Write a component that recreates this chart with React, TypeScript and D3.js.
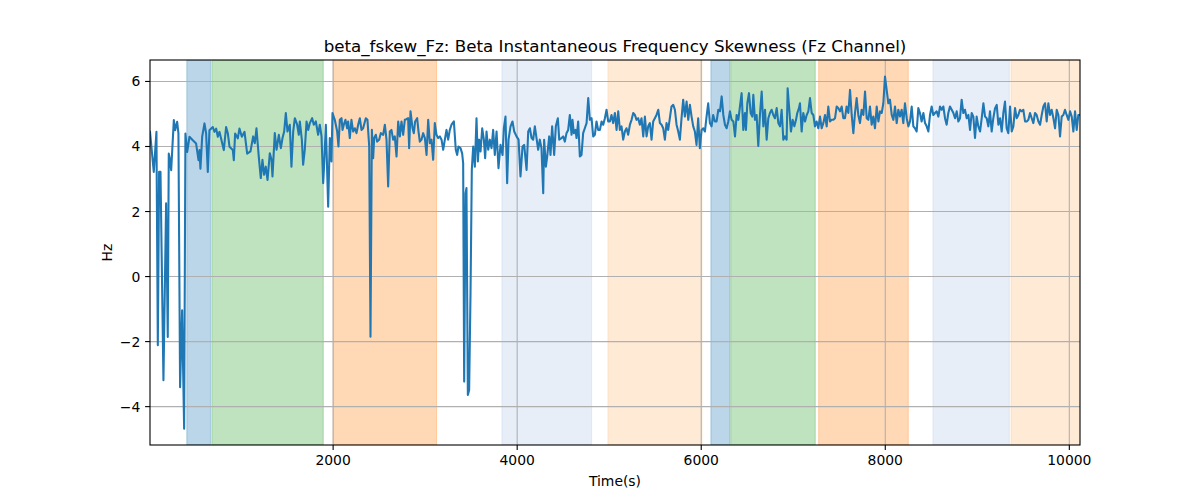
import * as d3 from 'd3';

// beta instantaneous frequency skewness, Fz channel: [time (s), Hz]
const fskew: [number, number][] = [
  [10, 4.45], [51, 3.22], [80, 4.45], [95, -2.11], [109, 3.22], [124, 3.22], [156, -3.19], [185, 2.25],
  [203, -1.86], [214, 3.78], [225, 3.63], [240, 3.27], [269, 4.81], [283, 4.5], [305, 4.76], [319, 4.4],
  [337, -3.4], [359, -1.04], [381, -4.68], [395, 4.4], [414, 3.83], [439, 4.3], [475, 4.19], [511, 4.09],
  [537, 3.58], [548, 3.89], [558, 3.32], [577, 4.3], [602, 4.71], [620, 4.4], [638, 3.22], [656, 4.5],
  [692, 4.6], [711, 4.45], [729, 4.55], [747, 4.3], [765, 4.45], [812, 3.89], [837, 4.6], [856, 4.4],
  [874, 3.99], [910, 3.89], [921, 3.58], [935, 4.4], [964, 4.25], [982, 4.55], [1008, 4.3], [1037, 4.45],
  [1066, 3.78], [1102, 3.85], [1131, 4.31], [1149, 4.1], [1167, 4.56], [1192, 3.69], [1214, 3.03], [1232, 3.59],
  [1250, 3.13], [1268, 3.38], [1287, 2.97], [1312, 3.79], [1330, 3.59], [1341, 3.08], [1366, 4.41], [1385, 3.9],
  [1410, 4.36], [1432, 3.95], [1450, 4.26], [1468, 4.46], [1486, 5.03], [1504, 4.46], [1529, 4.67], [1547, 3.38],
  [1566, 4.46], [1584, 4.87], [1609, 4.67], [1627, 4.36], [1638, 4.77], [1660, 4.21], [1674, 3.44], [1692, 3.9],
  [1711, 4.77], [1729, 4.51], [1747, 4.72], [1772, 4.87], [1790, 4.67], [1812, 4.77], [1837, 4.36], [1855, 4.67],
  [1874, 4.31], [1892, 2.87], [1903, 3.49], [1921, 4.67], [1946, 2.15], [1964, 4.26], [1982, 3.54], [1993, 5.03],
  [2018, 4.82], [2044, 4.46], [2058, 4.0], [2073, 4.82], [2091, 4.87], [2102, 4.51], [2116, 4.67], [2134, 4.82],
  [2152, 4.56], [2163, 4.77], [2181, 4.26], [2199, 4.82], [2218, 4.46], [2236, 4.56], [2254, 4.41], [2272, 4.67],
  [2290, 4.87], [2308, 4.51], [2326, 4.56], [2355, 4.87], [2373, 4.82], [2392, 4.0], [2406, -1.85], [2421, 4.51],
  [2435, 3.64], [2446, 4.26], [2464, 4.36], [2478, 4.15], [2500, 4.21], [2518, 4.41], [2544, 4.36], [2562, 4.67],
  [2580, 4.21], [2598, 2.77], [2616, 4.46], [2634, 4.51], [2652, 4.21], [2670, 4.31], [2689, 3.69], [2707, 4.77],
  [2725, 4.31], [2743, 4.77], [2761, 4.36], [2779, 4.82], [2797, 4.84], [2815, 4.87], [2826, 3.95], [2841, 5.08],
  [2863, 4.56], [2877, 4.41], [2891, 4.77], [2913, 4.87], [2928, 4.46], [2942, 4.15], [2960, 4.21], [2978, 4.41],
  [2997, 4.26], [3015, 3.74], [3033, 4.82], [3051, 4.1], [3069, 4.21], [3087, 3.59], [3105, 4.72], [3123, 4.36],
  [3141, 4.26], [3160, 4.31], [3178, 4.21], [3196, 3.9], [3214, 4.21], [3232, 4.51], [3250, 4.21], [3268, 4.51],
  [3286, 4.67], [3312, 4.77], [3333, 3.9], [3348, 3.74], [3362, 4.0], [3384, 3.95], [3402, 3.79], [3413, 3.49],
  [3424, -3.23], [3439, 2.56], [3449, 2.72], [3464, -3.64], [3478, -3.49], [3493, -0.51], [3507, 3.28], [3522, 4.0],
  [3540, 3.38], [3558, 4.87], [3573, 3.54], [3587, 4.21], [3602, 3.85], [3620, 4.56], [3638, 4.21], [3652, 3.64],
  [3667, 4.46], [3685, 3.9], [3703, 4.21], [3721, 3.95], [3739, 4.51], [3757, 3.74], [3776, 4.46], [3797, 3.33],
  [3819, 4.05], [3841, 3.74], [3855, 4.56], [3873, 4.92], [3891, 2.87], [3906, 4.21], [3928, 4.62], [3949, 4.77],
  [3968, 4.46], [3993, 4.31], [4015, 4.21], [4036, 3.08], [4058, 4.0], [4076, 4.05], [4102, 3.28], [4120, 4.46],
  [4138, 4.56], [4156, 4.26], [4174, 4.21], [4192, 4.62], [4210, 4.26], [4228, 3.9], [4246, 4.21], [4264, 3.95],
  [4283, 2.56], [4293, 4.21], [4312, 3.38], [4326, 3.69], [4348, 4.31], [4362, 3.74], [4380, 4.62], [4402, 3.74],
  [4420, 4.62], [4442, 4.87], [4457, 4.21], [4482, 4.26], [4500, 4.31], [4518, 4.15], [4536, 4.41], [4554, 4.51],
  [4572, 4.97], [4591, 4.36], [4601, 4.82], [4616, 4.41], [4634, 4.51], [4645, 4.26], [4663, 4.77], [4681, 3.69],
  [4699, 3.74], [4717, 4.41], [4735, 4.56], [4754, 4.72], [4772, 5.49], [4790, 4.82], [4808, 4.87], [4826, 4.31],
  [4844, 4.36], [4862, 4.77], [4880, 4.51], [4899, 4.51], [4917, 4.77], [4935, 4.67], [4953, 4.87], [4971, 5.13],
  [4989, 4.77], [5007, 4.77], [5025, 4.97], [5043, 4.72], [5062, 5.03], [5080, 4.51], [5098, 5.08], [5116, 4.51],
  [5134, 4.62], [5152, 4.21], [5170, 4.46], [5188, 4.56], [5206, 4.36], [5225, 4.67], [5243, 4.82], [5261, 5.03],
  [5279, 4.97], [5297, 4.82], [5315, 4.87], [5333, 4.67], [5351, 4.87], [5370, 4.31], [5388, 4.92], [5406, 4.31],
  [5424, 4.62], [5442, 4.72], [5460, 4.21], [5478, 4.77], [5496, 4.87], [5514, 4.97], [5533, 5.13], [5551, 4.72],
  [5569, 4.67], [5587, 4.56], [5605, 4.21], [5623, 4.72], [5641, 4.51], [5659, 4.87], [5677, 5.23], [5696, 5.28],
  [5714, 5.13], [5732, 4.67], [5750, 4.46], [5768, 4.21], [5786, 4.87], [5804, 5.44], [5822, 4.92], [5841, 5.38],
  [5859, 4.82], [5877, 5.28], [5895, 4.92], [5913, 4.62], [5931, 4.46], [5949, 4.05], [5967, 4.87], [5985, 3.95],
  [6004, 4.51], [6022, 4.56], [6040, 4.46], [6058, 4.92], [6076, 5.33], [6094, 4.72], [6112, 4.62], [6130, 4.97],
  [6148, 4.77], [6167, 4.77], [6186, 5.13], [6204, 5.08], [6222, 5.54], [6240, 4.97], [6258, 4.67], [6276, 4.56],
  [6294, 4.77], [6312, 5.08], [6330, 4.82], [6349, 4.77], [6367, 4.31], [6385, 4.97], [6403, 4.82], [6421, 5.23],
  [6439, 5.64], [6457, 4.51], [6475, 5.03], [6486, 4.51], [6501, 5.33], [6519, 5.64], [6537, 5.03], [6555, 4.92],
  [6566, 5.59], [6584, 4.82], [6602, 4.97], [6620, 4.02], [6638, 4.97], [6657, 5.69], [6675, 4.62], [6693, 5.13],
  [6711, 4.21], [6729, 4.87], [6747, 5.03], [6765, 5.13], [6783, 4.97], [6801, 4.87], [6820, 5.18], [6838, 4.72],
  [6856, 4.62], [6874, 5.13], [6892, 4.21], [6910, 4.31], [6928, 4.21], [6939, 5.79], [6957, 5.13], [6975, 4.46],
  [6993, 4.82], [7012, 4.62], [7030, 4.82], [7044, 5.03], [7062, 5.18], [7073, 5.33], [7091, 4.46], [7109, 5.03],
  [7128, 4.77], [7146, 4.97], [7164, 5.08], [7182, 5.49], [7200, 5.03], [7218, 4.97], [7236, 4.62], [7254, 4.77],
  [7272, 4.56], [7291, 4.92], [7309, 4.56], [7327, 4.72], [7345, 4.97], [7363, 4.62], [7381, 5.23], [7399, 4.77],
  [7417, 4.82], [7436, 4.82], [7454, 4.87], [7472, 5.23], [7490, 5.18], [7508, 5.08], [7526, 5.23], [7544, 4.87],
  [7562, 4.87], [7580, 5.23], [7599, 5.03], [7617, 5.74], [7635, 4.97], [7653, 4.41], [7671, 5.03], [7689, 5.49],
  [7707, 4.97], [7725, 4.72], [7743, 5.13], [7762, 4.97], [7780, 5.69], [7798, 4.87], [7816, 4.82], [7834, 5.23],
  [7852, 4.67], [7870, 4.92], [7888, 4.56], [7907, 5.23], [7925, 4.77], [7943, 5.08], [7961, 5.03], [7979, 5.33],
  [7997, 6.15], [8015, 5.74], [8033, 5.33], [8051, 5.44], [8070, 4.97], [8088, 4.82], [8106, 5.23], [8124, 4.72],
  [8142, 5.13], [8160, 4.92], [8178, 5.13], [8196, 4.72], [8214, 5.33], [8233, 4.87], [8251, 4.62], [8269, 4.77],
  [8287, 5.23], [8305, 4.62], [8323, 4.56], [8341, 4.46], [8359, 5.18], [8377, 5.03], [8395, 4.77], [8414, 5.03],
  [8432, 4.72], [8450, 4.62], [8468, 4.46], [8486, 4.97], [8504, 5.23], [8522, 4.97], [8540, 5.03], [8559, 5.08],
  [8577, 4.92], [8595, 5.23], [8613, 5.13], [8631, 5.23], [8649, 4.87], [8667, 4.67], [8685, 5.03], [8703, 5.23],
  [8722, 5.13], [8740, 5.03], [8758, 4.87], [8776, 5.08], [8794, 4.77], [8812, 4.87], [8830, 5.44], [8848, 5.03],
  [8866, 5.13], [8885, 4.87], [8903, 4.97], [8921, 4.51], [8939, 5.03], [8957, 4.92], [8975, 4.26], [8993, 4.92],
  [9011, 4.62], [9030, 4.46], [9048, 4.87], [9066, 5.33], [9084, 4.92], [9102, 4.87], [9120, 4.62], [9138, 5.08],
  [9156, 4.46], [9174, 4.87], [9193, 5.18], [9211, 5.28], [9229, 4.67], [9247, 4.87], [9265, 4.46], [9283, 5.03],
  [9301, 5.38], [9319, 4.56], [9337, 4.41], [9356, 5.23], [9374, 4.46], [9392, 4.62], [9410, 5.18], [9428, 4.87],
  [9446, 4.97], [9464, 5.13], [9482, 5.08], [9500, 5.13], [9519, 4.77], [9537, 4.77], [9555, 4.82], [9573, 5.03],
  [9591, 4.87], [9609, 4.72], [9627, 5.03], [9645, 4.97], [9664, 4.77], [9682, 4.67], [9700, 4.97], [9718, 5.23],
  [9736, 5.33], [9754, 4.77], [9772, 5.33], [9790, 4.97], [9808, 5.13], [9827, 4.87], [9845, 4.56], [9863, 5.13],
  [9881, 4.97], [9899, 4.31], [9917, 4.92], [9935, 4.97], [9953, 5.13], [9971, 4.97], [9990, 4.82], [10008, 5.08],
  [10026, 4.92], [10044, 4.46], [10062, 5.08], [10080, 4.51], [10098, 4.97], [10116, 4.97],
];

// shaded segments: [start, end, state]
const segments: [number, number, string][] = [
  [410, 667, 'a'],
  [682, 1893, 'b'],
  [2000, 3124, 'c'],
  [3834, 4809, 'd'],
  [4986, 6008, 'e'],
  [6105, 6311, 'a'],
  [6321, 7239, 'b'],
  [7276, 8250, 'c'],
  [8518, 9348, 'd'],
  [9366, 10116, 'e'],
];

const xTicks = [2000, 4000, 6000, 8000, 10000];
const yTicks = [-4, -2, 0, 2, 4, 6];

const stateColor: Record<string, string> = {
  a: '#1f77b4',
  b: '#2ca02c',
  c: '#ff7f0e',
  d: '#aec7e8',
  e: '#ffbb78',
};

const W = 1200;
const H = 500;
const margin = { top: 60, right: 120, bottom: 55, left: 150 };

const App = () => {
  const x = d3.scaleLinear().domain([10, 10116]).range([margin.left, W - margin.right]);
  const y = d3.scaleLinear().domain([-5.18, 6.66]).range([H - margin.bottom, margin.top]);

  const line = d3
    .line<[number, number]>()
    .x((d) => x(d[0]))
    .y((d) => y(d[1]));

  const font = 'DejaVu Sans, sans-serif';
  const x0 = margin.left;
  const x1 = W - margin.right;
  const y0 = H - margin.bottom;
  const y1 = margin.top;

  return (
    <svg
      width={W}
      height={H}
      style={{ position: 'absolute', left: 0, top: 0, background: '#fff' }}
      fontFamily={font}
    >
      <defs>
        <clipPath id="plot">
          <rect x={x0} y={y1} width={x1 - x0} height={y0 - y1} />
        </clipPath>
      </defs>

      <g clipPath="url(#plot)">
        {segments.map(([s, e, k], i) => (
          <rect
            key={i}
            x={x(s)}
            y={y1}
            width={x(e) - x(s)}
            height={y0 - y1}
            fill={stateColor[k]}
            fillOpacity={0.3}
            stroke={stateColor[k]}
            strokeOpacity={0.3}
            strokeWidth={1}
          />
        ))}
        {xTicks.map((t) => (
          <line key={'gx' + t} x1={x(t)} x2={x(t)} y1={y1} y2={y0} stroke="#b0b0b0" strokeWidth={1.1} />
        ))}
        {yTicks.map((t) => (
          <line key={'gy' + t} x1={x0} x2={x1} y1={y(t)} y2={y(t)} stroke="#b0b0b0" strokeWidth={1.1} />
        ))}
        <path d={line(fskew) ?? ''} fill="none" stroke="#1f77b4" strokeWidth={2.08} strokeLinejoin="round" strokeLinecap="square" />
      </g>

      <rect x={x0} y={y1} width={x1 - x0} height={y0 - y1} fill="none" stroke="#000" strokeWidth={1.1} />

      {xTicks.map((t) => (
        <g key={'tx' + t}>
          <line x1={x(t)} x2={x(t)} y1={y0} y2={y0 + 4.9} stroke="#000" strokeWidth={1.1} />
          <text x={x(t)} y={y0 + 9.7} dy="0.76em" textAnchor="middle" fontSize={13.9} fill="#000">
            {t}
          </text>
        </g>
      ))}
      {yTicks.map((t) => (
        <g key={'ty' + t}>
          <line x1={x0 - 4.9} x2={x0} y1={y(t)} y2={y(t)} stroke="#000" strokeWidth={1.1} />
          <text x={x0 - 9.7} y={y(t)} dy="0.36em" textAnchor="end" fontSize={13.9} fill="#000">
            {t < 0 ? '\u2212' + Math.abs(t) : t}
          </text>
        </g>
      ))}

      <text x={(x0 + x1) / 2} y={y1 - 8.3} textAnchor="middle" fontSize={16.7} fill="#000">
        beta_fskew_Fz: Beta Instantaneous Frequency Skewness (Fz Channel)
      </text>
      <text x={(x0 + x1) / 2} y={486} textAnchor="middle" fontSize={13.9} fill="#000">
        Time(s)
      </text>
      <text transform={`translate(112, ${(y0 + y1) / 2}) rotate(-90)`} textAnchor="middle" fontSize={13.9} fill="#000">
        Hz
      </text>
    </svg>
  );
};

export default App;
